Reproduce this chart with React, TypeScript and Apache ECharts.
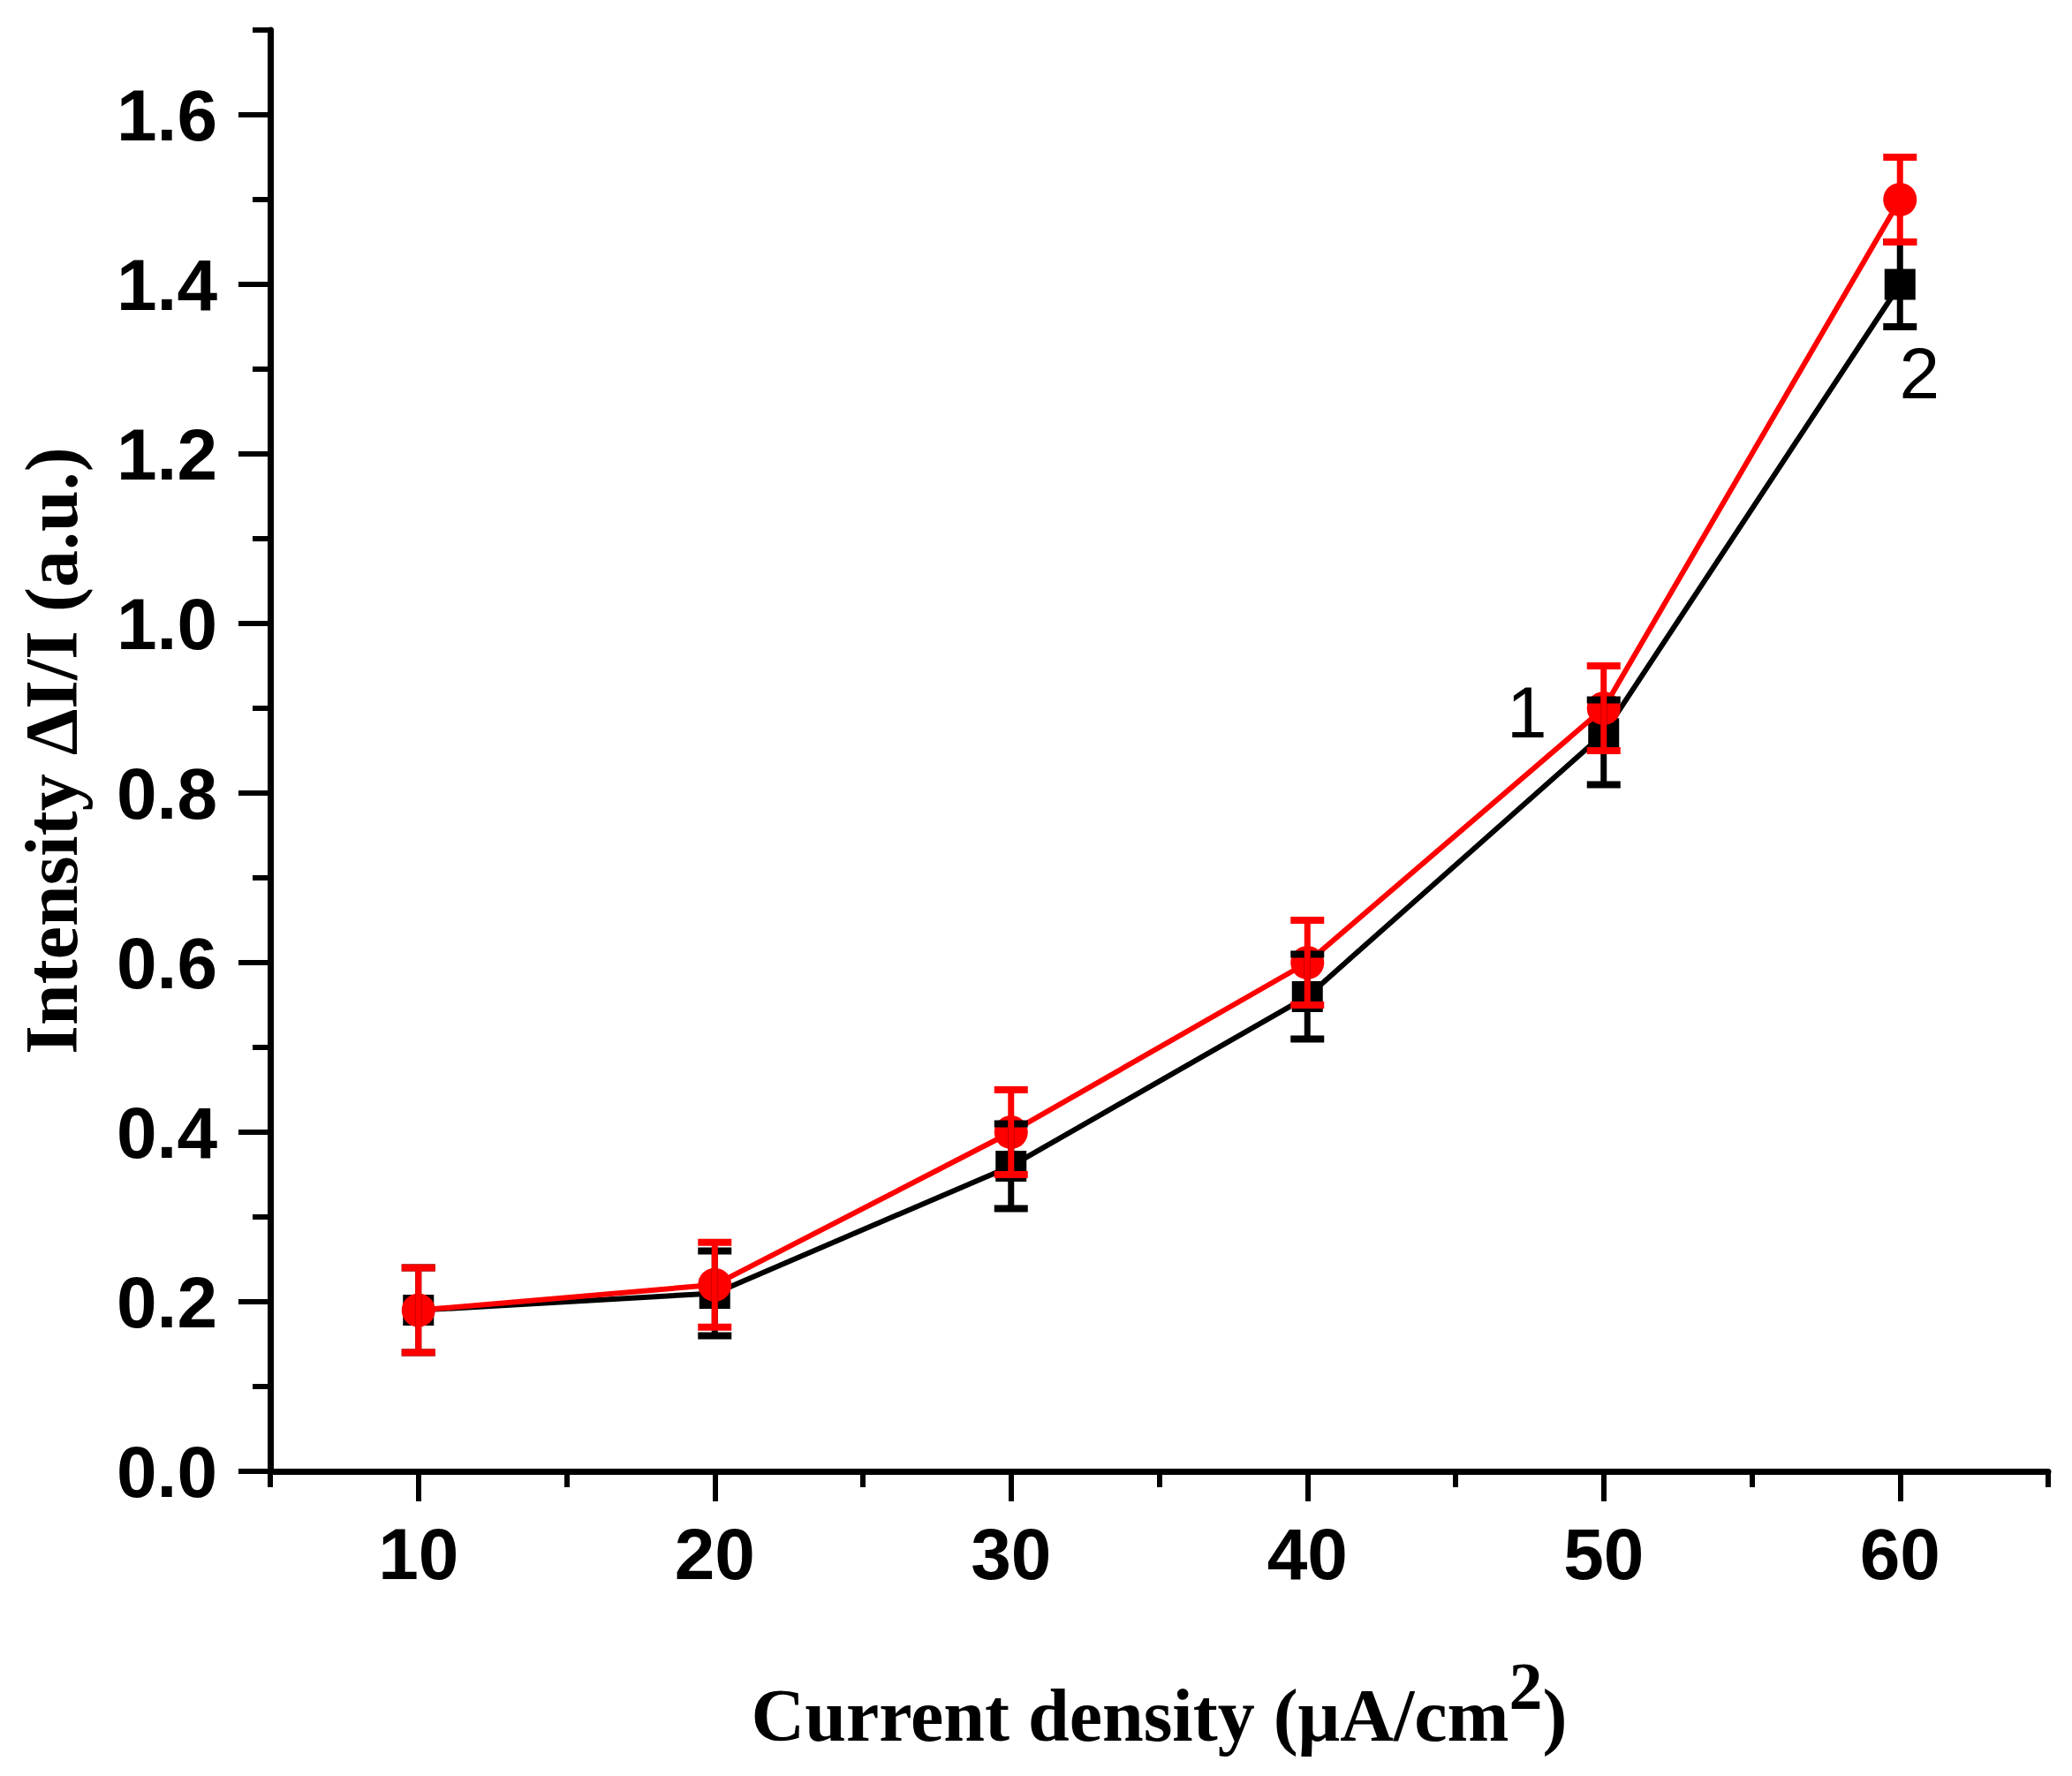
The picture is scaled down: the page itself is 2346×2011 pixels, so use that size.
import React, { useEffect, useRef } from "react";
import * as echarts from "echarts";

const xValues = [10, 20, 30, 40, 50, 60];
// curve 1 (red, circles)
const curve1Values = [0.19, 0.22, 0.4, 0.6, 0.9, 1.5];
const curve1Low = [0.14, 0.17, 0.35, 0.55, 0.85, 1.45];
const curve1High = [0.24, 0.27, 0.45, 0.65, 0.95, 1.55];
// curve 2 (black, squares)
const curve2Values = [0.19, 0.21, 0.36, 0.56, 0.87, 1.4];
const curve2Low = [0.14, 0.16, 0.31, 0.51, 0.81, 1.35];
const curve2High = [0.24, 0.26, 0.41, 0.61, 0.91, 1.45];

const xMajorTicks = [10, 20, 30, 40, 50, 60];
const xMinorTicks = [5, 15, 25, 35, 45, 55, 65];
const yMajorTicks = [0, 0.2, 0.4, 0.6, 0.8, 1.0, 1.2, 1.4, 1.6];
const yMinorTicks = [0.1, 0.3, 0.5, 0.7, 0.9, 1.1, 1.3, 1.5, 1.7];
const curveNames = ["1", "2"];

const X_MIN = 5;
const X_MAX = 65;
const Y_MIN = 0;
const Y_MAX = 1.7;

const RED = "#ff0000";
const BLACK = "#000000";

function errorBarSeries(name: string, low: number[], high: number[], color: string, z: number) {
  return {
    name,
    type: "custom",
    xAxisIndex: 0,
    yAxisIndex: 0,
    z,
    data: xValues.map((x, i) => [x, low[i], high[i]]),
    encode: { x: 0, y: [1, 2] },
    renderItem: (params: any, api: any) => {
      const x = api.value(0);
      const pLo = api.coord([x, api.value(1)]);
      const pHi = api.coord([x, api.value(2)]);
      const hw = 19;
      const stemStyle = { stroke: color, lineWidth: 7 };
      const capStyle = { stroke: color, lineWidth: 8 };
      return {
        type: "group",
        children: [
          { type: "line", shape: { x1: pLo[0], y1: pLo[1], x2: pHi[0], y2: pHi[1] }, style: stemStyle },
          { type: "line", shape: { x1: pLo[0] - hw, y1: pLo[1], x2: pLo[0] + hw, y2: pLo[1] }, style: capStyle },
          { type: "line", shape: { x1: pHi[0] - hw, y1: pHi[1], x2: pHi[0] + hw, y2: pHi[1] }, style: capStyle },
        ],
      };
    },
  };
}

const tickLabelStyle = {
  fontFamily: "Liberation Sans",
  fontWeight: "bold" as const,
  fontSize: 82,
  color: BLACK,
};

const curveLabelStyle = {
  fontFamily: "Liberation Sans",
  fontSize: 82,
  color: BLACK,
};

export default function App() {
  const ref = useRef<HTMLDivElement>(null);
  useEffect(() => {
    if (!ref.current) return;
    const chart = echarts.init(ref.current, undefined, { renderer: "svg" });
    const axisLineStyle = { color: BLACK, width: 7 };
    const tickLine = { color: BLACK, width: 6 };
    const serifBold = {
      fontFamily: "Liberation Serif",
      fontWeight: "bold" as const,
      color: BLACK,
    };
    const option = {
      animation: false,
      backgroundColor: "#ffffff",
      grid: { left: 284, top: 26, right: 19, bottom: 337, containLabel: false },
      xAxis: [
        {
          type: "value",
          min: X_MIN,
          max: X_MAX,
          position: "bottom",
          name: "Current density (μA/cm{sup|2}{n|)}",
          nameLocation: "middle",
          nameGap: 205,
          nameTextStyle: {
            ...serifBold,
            fontSize: 84,
            rich: {
              sup: { ...serifBold, fontSize: 76, padding: [0, 0, 66, 0] },
              n: { ...serifBold, fontSize: 84 },
            },
          },
          axisLine: { show: true, onZero: false, lineStyle: axisLineStyle },
          axisTick: { show: true, length: 34, customValues: xMajorTicks, lineStyle: tickLine },
          axisLabel: {
            show: true,
            customValues: xMajorTicks,
            margin: 52,
            ...tickLabelStyle,
            formatter: (v: number) => String(v),
          },
          splitLine: { show: false },
        },
        {
          type: "value",
          min: X_MIN,
          max: X_MAX,
          position: "bottom",
          axisLine: { show: false, onZero: false },
          axisTick: { show: true, length: 18, customValues: xMinorTicks, lineStyle: tickLine },
          axisLabel: { show: false },
          splitLine: { show: false },
        },
      ],
      yAxis: [
        {
          type: "value",
          min: Y_MIN,
          max: Y_MAX,
          position: "left",
          name: "Intensity ΔI/I (a.u.)",
          nameLocation: "middle",
          nameRotate: 90,
          nameGap: 206,
          nameTextStyle: { ...serifBold, fontSize: 84 },
          axisLine: { show: true, onZero: false, lineStyle: axisLineStyle },
          axisTick: { show: true, length: 36, customValues: yMajorTicks, lineStyle: tickLine },
          axisLabel: {
            show: true,
            customValues: yMajorTicks,
            margin: 60,
            ...tickLabelStyle,
            formatter: (v: number) => v.toFixed(1),
          },
          splitLine: { show: false },
        },
        {
          type: "value",
          min: Y_MIN,
          max: Y_MAX,
          position: "left",
          axisLine: { show: false, onZero: false },
          axisTick: { show: true, length: 20, customValues: yMinorTicks, lineStyle: tickLine },
          axisLabel: { show: false },
          splitLine: { show: false },
        },
      ],
      series: [
        {
          name: "curve 2",
          type: "line",
          xAxisIndex: 0,
          yAxisIndex: 0,
          z: 2,
          symbol: "rect",
          symbolSize: 35,
          itemStyle: { color: BLACK },
          lineStyle: { color: BLACK, width: 6 },
          data: xValues.map((x, i) =>
            i === xValues.length - 1
              ? {
                  value: [x, curve2Values[i]],
                  label: {
                    show: true,
                    position: "inside",
                    offset: [22, 100],
                    formatter: curveNames[1],
                    ...curveLabelStyle,
                  },
                }
              : [x, curve2Values[i]]
          ),
        },
        {
          name: "curve 1",
          type: "line",
          xAxisIndex: 0,
          yAxisIndex: 0,
          z: 3,
          symbol: "circle",
          symbolSize: 38,
          itemStyle: { color: RED },
          lineStyle: { color: RED, width: 6 },
          data: xValues.map((x, i) =>
            i === 4
              ? {
                  value: [x, curve1Values[i]],
                  label: {
                    show: true,
                    position: "inside",
                    offset: [-87, 4],
                    formatter: curveNames[0],
                    ...curveLabelStyle,
                  },
                }
              : [x, curve1Values[i]]
          ),
        },
        errorBarSeries("curve 2 error", curve2Low, curve2High, BLACK, 4),
        errorBarSeries("curve 1 error", curve1Low, curve1High, RED, 5),
      ],
    };
    chart.setOption(option as any);
    return () => chart.dispose();
  }, []);
  return <div ref={ref} style={{ width: 2330, height: 1995 }} />;
}
